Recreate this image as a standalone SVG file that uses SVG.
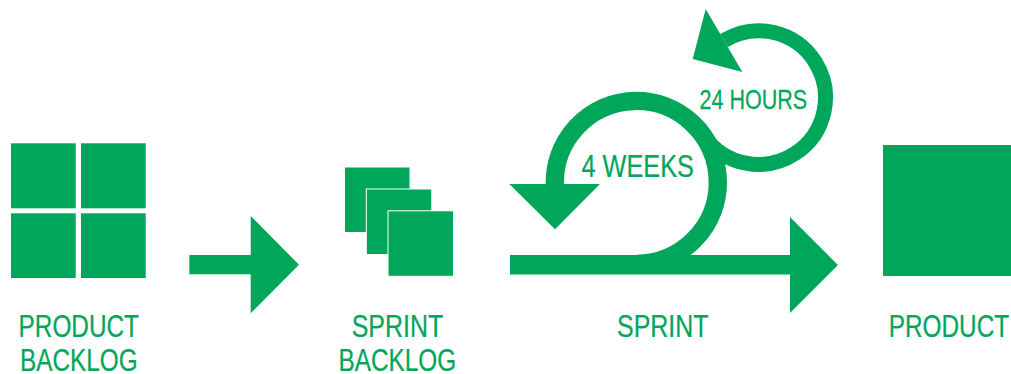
<svg xmlns="http://www.w3.org/2000/svg" width="1011" height="374" viewBox="0 0 1011 374">
<style>
.f{fill:#00a65a}
.s{fill:#00a65a;stroke:#fff;stroke-width:1}
.l{fill:none;stroke:#00a65a}
text{fill:#00a65a;stroke:#00a65a;stroke-width:.25px;font-family:"Liberation Sans",Arial,sans-serif;font-size:31px}
</style>
<rect width="1011" height="374" fill="#fff"/>
<g id="product-backlog">
<rect class="f" x="11" y="143.3" width="64.7" height="65"/>
<rect class="f" x="81" y="143.3" width="64.7" height="65"/>
<rect class="f" x="11" y="213.3" width="64.7" height="64.7"/>
<rect class="f" x="81" y="213.3" width="64.7" height="64.7"/>
<text transform="translate(18.6 337.3) scale(.785 1)">PRODUCT</text>
<text transform="translate(20 370.7) scale(.785 1)">BACKLOG</text>
</g>
<g id="sprint-backlog">
<rect class="s" x="344.5" y="167" width="65.5" height="65.5"/>
<rect class="s" x="366.3" y="189" width="65.5" height="65.5"/>
<rect class="s" x="388" y="210.8" width="65.5" height="65.5"/>
<text transform="translate(351.7 337.3) scale(.805 1)">SPRINT</text>
<text transform="translate(338.5 370.7) scale(.785 1)">BACKLOG</text>
</g>
<g id="sprint">
<text transform="translate(617 337.3) scale(.805 1)">SPRINT</text>
<text transform="translate(581.5 176.7) scale(.79 1)" style="font-size:32px">4 WEEKS</text>
<text transform="translate(699.5 108.7) scale(.755 1)" style="font-size:28.5px">24 HOURS</text>
</g>
<g id="product">
<rect class="f" x="883" y="145" width="128" height="131"/>
<text transform="translate(888.8 337.3) scale(.785 1)">PRODUCT</text>
</g>
<g id="connectors">
<path class="f" d="M189.3 255H250.7V216L299 264.7L250.7 313.3V274.3H189.3Z"/>
<path class="f" d="M510 255H790V217L838 265L790 313V274.5H510Z"/>
<path class="l" stroke-width="18.4" d="M636.4 263.9A81.5 81.5 0 1 0 554.9 186"/>
<path class="f" d="M509.3 184H600L555 229.3Z"/>
<path class="l" stroke-width="15" d="M703.6 135.4A66.8 66.8 0 1 0 724 40.5"/>
<path class="f" d="M705.7 9L692.7 59L742.3 72Z"/>
</g>
</svg>
